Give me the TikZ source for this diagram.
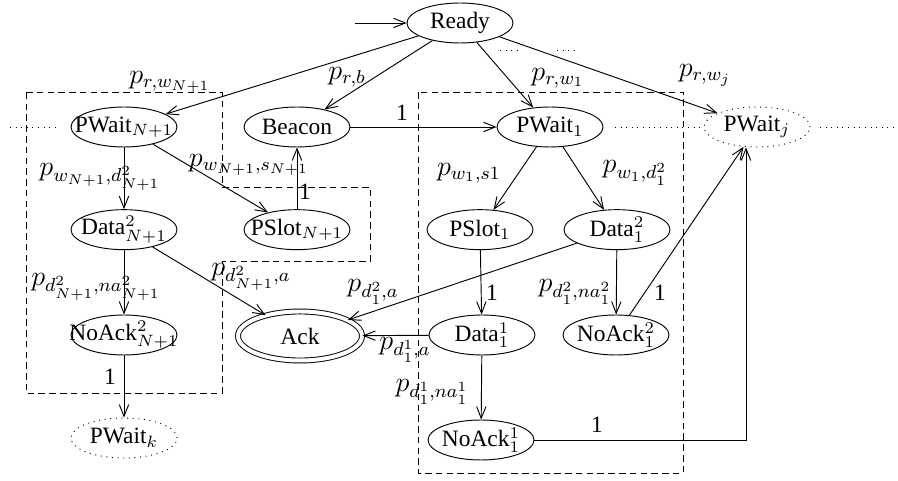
\documentclass[tikz,border=0pt]{standalone}
\usepackage{fontspec}
\setmainfont{Liberation Serif}
\usetikzlibrary{arrows.meta,shapes.geometric}

\tikzset{
	state/.style={shape=ellipse, draw, minimum width=1.59cm, minimum height=0.6cm, inner sep=0pt},
	ghost/.style={state, dotted},
	final/.style={shape=ellipse, draw, double, double distance=1.7pt, minimum width=1.86cm, minimum height=0.735cm, inner sep=0pt},
	wire/.style={-{Straight Barb[length=5pt,width=4pt]}},
	lbl/.style={inner sep=0pt, font=\fontsize{11.5}{13}\selectfont},
	one/.style={inner sep=0pt},
	group/.style={dash pattern=on 2.8pt off 1.8pt}
}
\newcommand{\nbox}[1]{\makebox[0pt]{#1}}

\begin{document}
\begin{tikzpicture}
	\useasboundingbox (0,0) rectangle (13.47,7.215);
	% Paths, nodes and wires:
	\node[state] (ready) at (6.9, 6.87){\nbox{Ready}};
	\coordinate (start) at (5.325, 6.87);
	\node[state] (pwaitN) at (1.86, 5.31){\nbox{PWait$_{N+1}$}};
	\node[state] (beacon) at (4.455, 5.31){\nbox{Beacon}};
	\node[state] (pwait1) at (8.25, 5.31){\nbox{PWait$_1$}};
	\node[ghost] (pwaitj) at (11.355, 5.31){\nbox{PWait$_j$}};
	\node[state] (dataN) at (1.86, 3.77){\nbox{Data$^2_{N+1}$}};
	\node[state] (pslotN) at (4.455, 3.77){\nbox{PSlot$_{N+1}$}};
	\node[state] (pslot1) at (7.2, 3.77){\nbox{PSlot$_1$}};
	\node[state] (data21) at (9.255, 3.77){\nbox{Data$^2_1$}};
	\node[state] (noackN) at (1.86, 2.19){\nbox{NoAck$^2_{N+1}$}};
	\node[final] (ack) at (4.5, 2.175){\nbox{Ack}};
	\node[state] (data11) at (7.23, 2.19){\nbox{Data$^1_1$}};
	\node[state] (noack21) at (9.24, 2.19){\nbox{NoAck$^2_1$}};
	\node[ghost] (pwaitk) at (1.86, 0.645){\nbox{PWait$_k$}};
	\node[state] (noack11) at (7.215, 0.615){\nbox{NoAck$^1_1$}};

	% groups
	\draw[group] (0.39, 5.835) -- (3.33, 5.835) -- (3.33, 4.41) -- (5.55, 4.41) -- (5.55, 3.3) -- (3.33, 3.3) -- (3.33, 1.32) -- (0.39, 1.32) -- cycle;
	\draw[group] (6.27, 5.835) rectangle (10.245, 0.12);
	\draw[dotted] (0.15, 5.31) -- (0.9, 5.31);
	\draw[dotted] (9.225, 5.31) -- (10.545, 5.31);
	\draw[dotted] (12.3, 5.31) -- (13.47, 5.31);
	\draw[dotted] (7.5, 6.465) -- (7.8, 6.465);
	\draw[dotted] (8.355, 6.465) -- (8.655, 6.465);

	\draw[wire] (start) -- (ready);
	\draw[wire] (ready) -- (pwaitN);
	\draw[wire] (ready) -- (beacon);
	\draw[wire] (ready) -- (pwait1);
	\draw[wire] (ready) -- (pwaitj);
	\draw[wire] (beacon) -- (pwait1);
	\draw[wire] (pwaitN) -- (dataN);
	\draw[wire] (pwaitN) -- (pslotN);
	\draw[wire] (pslotN) -- (beacon);
	\draw[wire] (dataN) -- (noackN);
	\draw[wire] (dataN) -- (ack);
	\draw[wire] (noackN) -- (pwaitk);
	\draw[wire] (pwait1) -- (pslot1);
	\draw[wire] (pwait1) -- (data21);
	\draw[wire] (pslot1) -- (data11);
	\draw[wire] (data21) -- (noack21);
	\draw[wire] (data21) -- (ack);
	\draw[wire] (data11) -- (ack);
	\draw[wire] (data11) -- (noack11);
	\draw[wire] (noack21) -- (pwaitj);
	\draw[wire] (noack11) -| ([xshift=-0.165cm]pwaitj.south);

	% labels
	\node[lbl] (lrwN) at (2.55, 5.985){$p_{r,w_{N+1}}$};
	\node[lbl] (lrb) at (5.205, 6.06){$p_{r,b}$};
	\node[lbl] (lrw1) at (8.37, 6.045){$p_{r,w_1}$};
	\node[lbl] (lrwj) at (10.575, 6.09){$p_{r,w_j}$};
	\node[one] (lbw) at (6.03, 5.52){1};
	\node[lbl] (lwdN) at (1.5, 4.56){$p_{w_{N+1},d^2_{N+1}}$};
	\node[lbl] (lwsN) at (3.735, 4.74){$p_{w_{N+1},s_{N+1}}$};
	\node[one] (lsbN) at (4.575, 4.335){1};
	\node[lbl] (lws1) at (7.035, 4.62){$p_{w_1,s1}$};
	\node[lbl] (lwd1) at (9.525, 4.62){$p_{w_1,d^2_1}$};
	\node[lbl] (ldnN) at (1.44, 2.91){$p_{d^2_{N+1},na^2_{N+1}}$};
	\node[lbl] (ldaN) at (3.765, 3.06){$p_{d^2_{N+1},a}$};
	\node[lbl] (lda2) at (5.595, 2.835){$p_{d^2_1,a}$};
	\node[one] (lsd1) at (7.38, 2.82){1};
	\node[lbl] (ldn2) at (8.625, 2.835){$p_{d^2_1,na^2_1}$};
	\node[one] (lnw2) at (9.9, 2.82){1};
	\node[lbl] (lda1) at (6.075, 1.965){$p_{d^1_1,a}$};
	\node[lbl] (ldn1) at (6.48, 1.335){$p_{d^1_1,na^1_1}$};
	\node[one] (lnw1) at (8.955, 0.84){1};
	\node[one] (lnwN) at (1.65, 1.56){1};
\end{tikzpicture}
\end{document}
